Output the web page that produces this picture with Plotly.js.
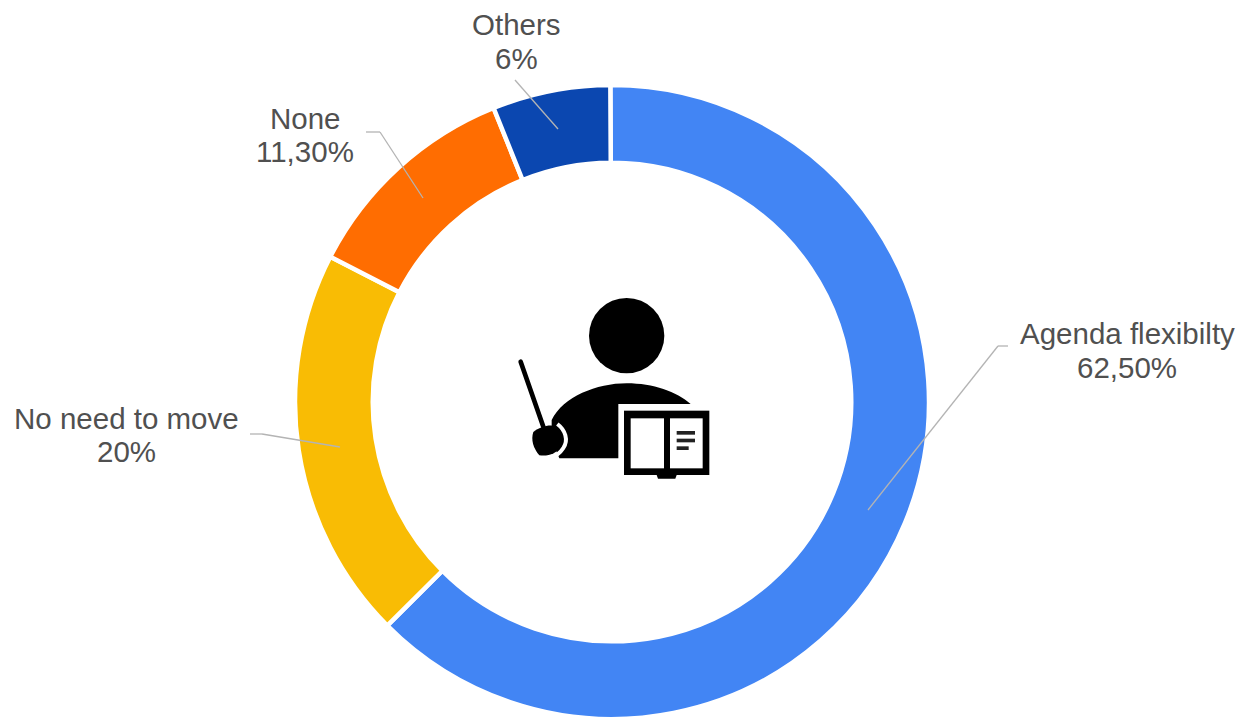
<!DOCTYPE html>
<html>
<head>
<meta charset="utf-8">
<script src="https://cdn.plot.ly/plotly-3.0.1.min.js"></script>
<style>html,body{margin:0;padding:0;background:#fff}#chart{width:1243px;height:719px}</style>
</head>
<body>
<div id="chart"></div>
<script>
const categories = ["Agenda flexibilty", "No need to move", "None", "Others"];
const values = [62.5, 20, 11.3, 6];
const valueLabels = ["62,50%", "20%", "11,30%", "6%"];
const colors = ["#4285F4", "#F9BC04", "#FF6D01", "#0B47B0"];

const W = 1243, H = 719;
const px = x => x / W;
const py = y => 1 - y / H;

const labelPos = [[1127, 333, 367], [126, 418, 452], [305, 118, 152], [516, 24, 58]];
const leaders = [
  [[1008, 346], [998, 346], [868, 510]],
  [[250, 434], [262, 434], [340, 447]],
  [[366, 132], [380, 132], [423, 198]],
  [[515, 80], [515, 80], [558, 129]]
];

const icon = `<svg xmlns="http://www.w3.org/2000/svg" width="690" height="630" viewBox="0 0 690 630">
<circle cx="380" cy="167" r="113" fill="#000"/>
<path d="M155 420 C190 350 290 310 380 310 C460 310 530 335 572 372 L355 372 L355 535 L178 535 L155 480 Z" fill="#000"/>
<line x1="62" y1="245" x2="130" y2="440" stroke="#000" stroke-width="14" stroke-linecap="round"/>
<path d="M100 456 C120 440 150 432 170 440 C190 455 196 478 186 497 C170 520 145 530 118 526 C100 505 92 480 100 456 Z" fill="#000"/>
<path d="M172 432 C196 450 206 480 190 504 C180 520 170 528 150 534" fill="none" stroke="#fff" stroke-width="12"/>
<rect x="372" y="392" width="256" height="193" fill="#000"/>
<rect x="392" y="415" width="100" height="150" fill="#fff"/>
<rect x="510" y="415" width="98" height="150" fill="#fff"/>
<rect x="530" y="453" width="55" height="11" fill="#222"/>
<rect x="530" y="476" width="55" height="11" fill="#222"/>
<rect x="530" y="499" width="36" height="11" fill="#222"/>
<path d="M470 585 L530 585 L526 596 L474 596 Z" fill="#000"/>
</svg>`;

const shapes = [];
leaders.forEach(pts => {
  for (let i = 0; i < pts.length - 1; i++) {
    shapes.push({
      type: "line", xref: "paper", yref: "paper",
      x0: px(pts[i][0]), y0: py(pts[i][1]), x1: px(pts[i + 1][0]), y1: py(pts[i + 1][1]),
      line: { color: "#B4B4B4", width: 1.3 }
    });
  }
});

const labelFont = { family: "Liberation Sans, Arial, sans-serif", size: 29.5, color: "#505050" };
const annotations = [];
categories.forEach((c, i) => {
  [[c, labelPos[i][1]], [valueLabels[i], labelPos[i][2]]].forEach(([t, y]) => {
    annotations.push({
      xref: "paper", yref: "paper",
      x: px(labelPos[i][0]), y: py(y),
      xanchor: "center", yanchor: "middle", align: "center",
      showarrow: false, text: t, font: labelFont
    });
  });
});

Plotly.newPlot("chart", [{
  type: "pie",
  labels: categories,
  values: values,
  sort: false,
  direction: "clockwise",
  rotation: -0.3,
  hole: 0.7547,
  textinfo: "none",
  hoverinfo: "label+percent",
  marker: { colors: colors, line: { color: "#FFFFFF", width: 4.5 } },
  domain: { x: [px(295), px(929)], y: [py(719), py(85)] }
}], {
  width: W, height: H,
  margin: { l: 0, r: 0, t: 0, b: 0 },
  showlegend: false,
  paper_bgcolor: "#FFFFFF",
  shapes: shapes,
  annotations: annotations,
  images: [{
    source: "data:image/svg+xml;charset=utf-8," + encodeURIComponent(icon),
    xref: "paper", yref: "paper",
    x: px(500), y: py(280), sizex: 230 / W, sizey: 210 / H,
    xanchor: "left", yanchor: "top", sizing: "stretch", layer: "above"
  }]
}, { displayModeBar: false, staticPlot: true });
</script>
</body>
</html>
